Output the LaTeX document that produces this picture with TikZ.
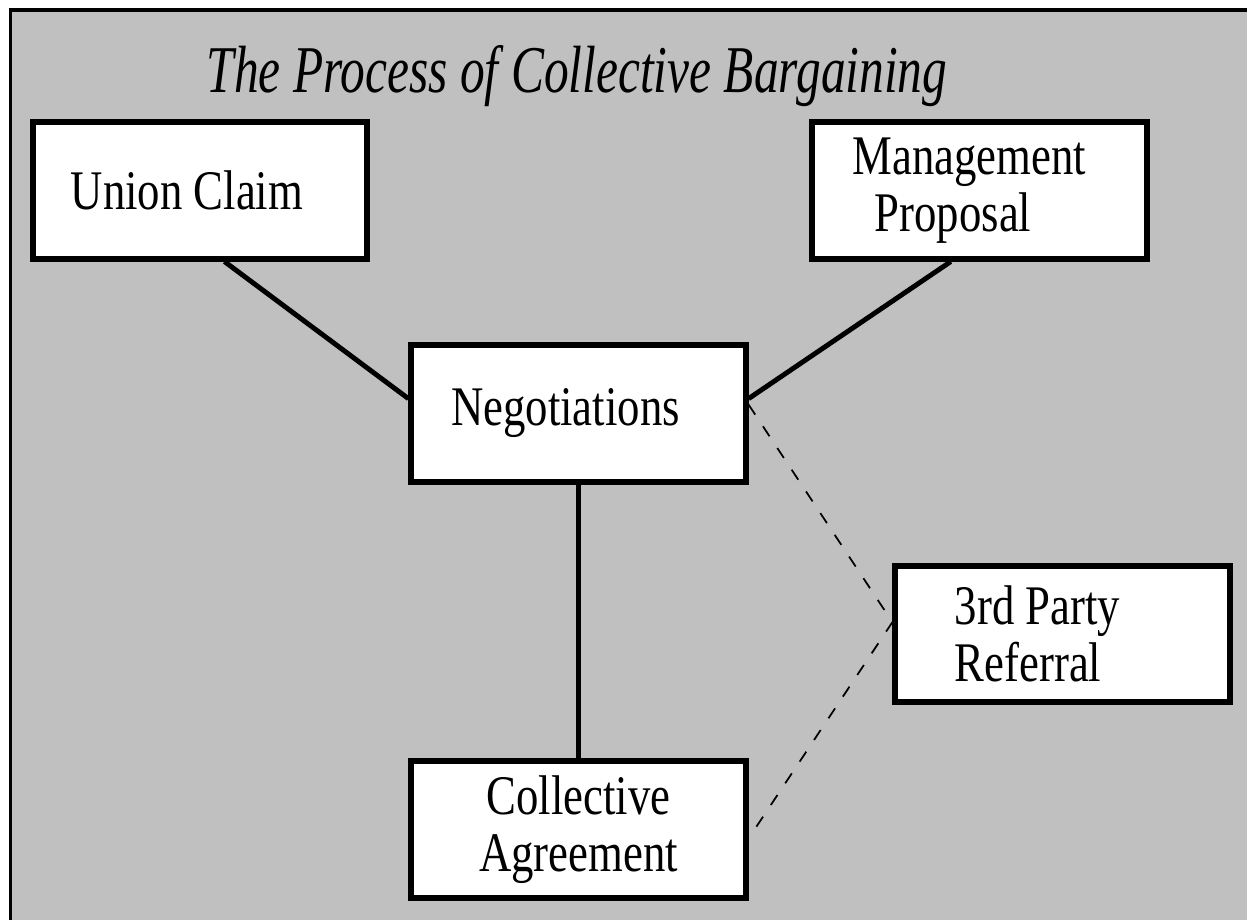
\documentclass[tikz,border=0pt]{standalone}
\usepackage{fontspec}
\setmainfont{Liberation Serif}[FakeStretch=0.8]
\newfontfamily\titlefont{Liberation Serif}[FakeStretch=0.74]
\definecolor{panel}{HTML}{C0C0C0}
\begin{document}
\begin{tikzpicture}[x=0.01cm,y=-0.01cm,
        stage/.style={draw,fill=white,line width=1.7pt,minimum width=3.34cm,minimum height=1.36cm,
            inner sep=0pt,align=center,font=\fontsize{15.9}{16.2}\selectfont},
        link/.style={line width=1.4pt},
        referral link/.style={line width=0.5pt,dash pattern=on 3.4pt off 4pt}]
    \useasboundingbox (0,0) rectangle (1247,920);
    % panel with its dark edge on the left and top
    \fill (9,8) rectangle (1247,920);
    \fill[panel] (12,12) rectangle (1247,920);
    \node[anchor=base west,inner sep=0pt,font=\titlefont\itshape\fontsize{19}{20}\selectfont] (title) at (206,92) {The Process of Collective Bargaining};
    % boxes; trailing \hspace* pulls the text a little to the left
    \node[stage] (union) at (200,190.5) {Union Claim\hspace*{0.26cm}};
    \node[stage,align=left] (mgmt) at (979.5,190.5) {Management\hspace*{0.2cm}\\\hspace*{0.22cm}Proposal};
    \node[stage] (nego) at (578.5,413.5) {Negotiations\hspace*{0.26cm}};
    \node[stage,align=left] (referral) at (1062.5,634) {3rd Party\hspace*{0.5cm}\\Referral};
    \node[stage] (agreement) at (578.5,829.5) {Collective\\Agreement};
    \coordinate (meet) at (referral.176);
    \draw[link] (union.-71) -- (nego.175);
    \draw[link] (mgmt.-112) -- (nego.5.6);
    \draw[link] (nego) -- (agreement);
    \draw[referral link] (nego.3.5) -- (meet) -- (agreement.-3.5);
\end{tikzpicture}
\end{document}
